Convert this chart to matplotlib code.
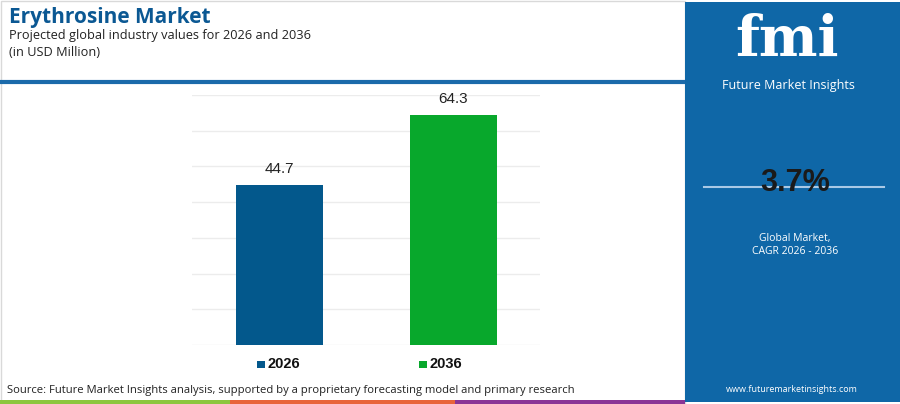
import matplotlib
matplotlib.use("Agg")
import matplotlib.pyplot as plt
from matplotlib.patches import Rectangle

# chart data
years = ["2026", "2036"]
values = [44.7, 64.3]
bar_colors = ["#03588c", "#08a82c"]
cagr_text = "3.7%"

W, H = 900, 404
fig = plt.figure(figsize=(W / 100, H / 100), dpi=100)
fig.patch.set_facecolor("white")


def px(x, y):
    # pixel coords (top-left origin) -> figure fraction
    return x / W, 1 - y / H


# background decorations
bg = fig.add_axes([0, 0, 1, 1], zorder=0)
bg.set_xlim(0, W)
bg.set_ylim(H, 0)
bg.axis("off")
bg.add_patch(Rectangle((0.5, 0.5), 684, 403, facecolor="white", edgecolor="#d9d9d9", lw=1))
bg.plot([0, 685], [82, 82], color="#1b6aaa", lw=3, solid_capstyle="butt")
bg.add_patch(Rectangle((685, 2), 215, 400, facecolor="#0f67a7", edgecolor="none"))
bg.add_patch(Rectangle((0, 400), 230, 4, facecolor="#8cc63e", edgecolor="none"))
bg.add_patch(Rectangle((230, 400), 225, 4, facecolor="#e8643a", edgecolor="none"))
bg.add_patch(Rectangle((455, 400), 230, 4, facecolor="#8a3596", edgecolor="none"))
bg.plot([704, 884], [187, 187], color="#a9c9e6", lw=1.5)

# titles
fig.text(*px(9, 18), "Erythrosine Market", fontsize=15, fontweight="bold",
         color="#0b5893", family="Open Sans", va="center", ha="left")
fig.text(*px(9, 35), "Projected global industry values for 2026 and 2036", fontsize=9.2,
         color="#222222", family="Open Sans", va="center", ha="left")
fig.text(*px(9, 53), "(in USD Million)", fontsize=9.2,
         color="#222222", family="Open Sans", va="center", ha="left")

# right panel texts
fig.text(*px(787, 40), "fmi", fontsize=40, fontweight="bold", color="white",
         family="DejaVu Serif", va="center", ha="center")
fig.text(*px(788, 85), "Future Market Insights", fontsize=9, color="white",
         family="Open Sans", va="center", ha="center")
fig.text(*px(795, 183), cagr_text, fontsize=22, fontweight="bold", color="#1a1a1a",
         family="Liberation Sans", va="center", ha="center")
fig.text(*px(795, 238), "Global Market,", fontsize=7.5, color="white",
         family="Open Sans", va="center", ha="center")
fig.text(*px(795, 251), "CAGR 2026 - 2036", fontsize=7.5, color="white",
         family="Open Sans", va="center", ha="center")
fig.text(*px(792, 389), "www.futuremarketinsights.com", fontsize=6.5, color="white",
         family="Open Sans", va="center", ha="center")

# source line
fig.text(*px(7, 390), "Source: Future Market Insights analysis, supported by a proprietary forecasting model and primary research",
         fontsize=8.1, color="#222222", family="Open Sans", va="center", ha="left")

# main bar chart
ax = fig.add_axes([192 / W, 1 - 345 / H, (540 - 192) / W, (345 - 95) / H], zorder=2)
ax.set_facecolor("none")
xs = list(range(len(years)))
ax.bar(xs, values, width=0.5, color=bar_colors, zorder=3)
for x, v in zip(xs, values):
    ax.text(x, v + 2.5, f"{v}", ha="center", va="bottom", fontsize=11,
            color="#222222", family="Liberation Sans")
ax.set_xlim(-0.5, 1.5)
ax.set_ylim(0, 70)
ax.set_yticks(range(0, 71, 10))
ax.yaxis.grid(True, color="#ececec", lw=1)
ax.set_axisbelow(True)
ax.tick_params(left=False, bottom=False, labelleft=False, labelbottom=False)
for s in ax.spines.values():
    s.set_visible(False)

# legend
for (lx, label, c) in [(257, years[0], bar_colors[0]), (419, years[1], bar_colors[1])]:
    bg.add_patch(Rectangle((lx, 360.5), 7.5, 7.5, facecolor=c, edgecolor="none"))
    fig.text(*px(lx + 11, 364), label, fontsize=10.5, fontweight="bold", color="#111111",
             family="Liberation Sans", va="center", ha="left")

fig.savefig("out.png", dpi=100)
